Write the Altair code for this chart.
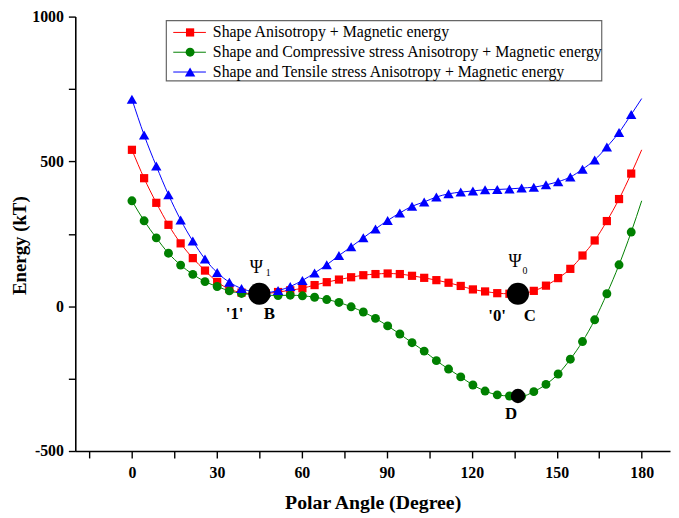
import altair as alt
import pandas as pd

# ---- data ----
angles = [0, 4.3, 8.6, 12.9, 17.2, 21.5, 25.8, 30.1, 34.4, 38.7, 43.0, 47.3, 51.6, 55.9,
          60.2, 64.5, 68.8, 73.1, 77.4, 81.7, 86.0, 90.3, 94.6, 98.9, 103.2, 107.5, 111.8,
          116.1, 120.4, 124.7, 129.0, 133.3, 137.6, 141.9, 146.2, 150.5, 154.8, 159.1,
          163.4, 167.7, 172.0, 176.3]
red = [540, 442, 357, 281, 217, 166, 123, 84, 59, 47, 43, 44, 49, 55, 62, 73, 83, 92, 100,
       107, 111, 113, 111, 105, 98, 90, 81, 70, 58, 51, 45, 43, 44, 53, 71, 97, 129, 175,
       227, 294, 370, 458]
green = [364, 295, 236, 183, 142, 110, 85, 68, 53, 44, 40, 38, 37, 38, 36, 31, 23, 13, -2,
         -20, -42, -68, -96, -126, -155, -188, -217, -244, -272, -293, -306, -310, -311,
         -295, -270, -234, -183, -122, -47, 43, 143, 256]
blue = [715, 591, 484, 385, 298, 225, 163, 116, 83, 61, 50, 47, 54, 68, 89, 115, 143, 175,
        205, 236, 267, 296, 322, 345, 360, 377, 388, 394, 398, 402, 403, 405, 408, 411, 419,
        430, 446, 473, 505, 550, 600, 662]
end_angle = 180
end_values = [540, 364, 717]

series_names = ["Shape Anisotropy + Magnetic energy",
                "Shape and Compressive stress Anisotropy + Magnetic energy",
                "Shape and Tensile stress Anisotropy + Magnetic energy"]
series_values = [red, green, blue]
colors = ["#ff0000", "#008000", "#0000ff"]
shapes = ["square", "circle", "triangle-up"]
sizes = [69, 81, 110]

special_names = ["B", "C", "D"]
special_angles = [45, 136.3, 136.3]
special_energy = [43, 43, -310]
special_sizes = [500, 500, 210]

x_ticks = [-15, 0, 15, 30, 45, 60, 75, 90, 105, 120, 135, 150, 165, 180]
y_ticks = [-500, -250, 0, 250, 500, 750, 1000]

FONT = "Liberation Serif"
W, H = 601, 439

xs = alt.Scale(domain=[-20, 190], nice=False, zero=False)
ys = alt.Scale(domain=[-500, 1000], nice=False, zero=False)

x_axis = alt.Axis(values=x_ticks, labelExpr="datum.value % 30 == 0 ? '' + datum.value : ''",
                  title="Polar Angle (Degree)", grid=False, tickSize=7, labelPadding=7,
                  titleY=52, titleBaseline="middle", titleFontSize=20)
y_axis = alt.Axis(values=y_ticks, labelExpr="datum.value % 500 == 0 ? '' + datum.value : ''",
                  title="Energy (kT)", grid=False, tickSize=7, labelPadding=5,
                  titleX=-56, titleY=231, titleBaseline="middle", titleAlign="center",
                  titleAngle=270, titleFontSize=19)


def X():
    return alt.X("angle:Q", scale=xs, axis=x_axis)


def Y():
    return alt.Y("energy:Q", scale=ys, axis=y_axis)


layers = []
for i, (name, vals) in enumerate(zip(series_names, series_values)):
    pts = pd.DataFrame({"angle": angles, "energy": vals})
    ln = pd.DataFrame({"angle": angles + [end_angle], "energy": vals + [end_values[i]]})
    layers.append(alt.Chart(ln).mark_line(color=colors[i], strokeWidth=1,
                                          interpolate="monotone").encode(x=X(), y=Y()))
    layers.append(alt.Chart(pts).mark_point(shape=shapes[i], filled=True, size=sizes[i],
                                            color=colors[i], opacity=1)
                  .encode(x=X(), y=Y()))

sp = pd.DataFrame({"angle": special_angles, "energy": special_energy,
                   "name": special_names, "sz": special_sizes})
layers.append(alt.Chart(sp).mark_point(shape="circle", filled=True, color="black", opacity=1)
              .encode(x=X(), y=Y(), size=alt.Size("sz:Q", scale=None, legend=None)))

# annotations: (text, anchor index, dx, dy, font size, bold)
annotations = [
    ("Ψ", 0, -3, -26, 18, "normal"), ("1", 0, 9, -21, 10, "normal"),
    ("'1'", 0, -25, 21, 17, "bold"), ("B", 0, 10, 21, 17, "bold"),
    ("Ψ", 1, -3, -32, 18, "normal"), ("0", 1, 7, -23, 10, "normal"),
    ("'0'", 1, -21, 23, 17, "bold"), ("C", 1, 12, 23, 17, "bold"),
    ("D", 2, -7, 18, 17, "bold"),
]
for txt, k, dx, dy, fs, fw in annotations:
    a = pd.DataFrame({"angle": [special_angles[k]], "energy": [special_energy[k]], "t": [txt]})
    layers.append(alt.Chart(a).mark_text(dx=dx, dy=dy, fontSize=fs, fontWeight=fw, font=FONT,
                                         align="center", baseline="middle", color="black")
                  .encode(x=X(), y=Y(), text="t:N"))

# legend box
dummy = pd.DataFrame({"a": [0]})
layers.append(alt.Chart(dummy).mark_rect(fill="white", stroke="#666666", strokeWidth=1.2)
              .encode(x=alt.value(92), x2=alt.value(532), y=alt.value(4), y2=alt.value(65)))
row_y = [16, 36, 56]
for i, name in enumerate(series_names):
    layers.append(alt.Chart(dummy).mark_rule(color=colors[i], strokeWidth=1)
                  .encode(x=alt.value(99), x2=alt.value(132), y=alt.value(row_y[i])))
    layers.append(alt.Chart(dummy).mark_point(shape=shapes[i], filled=True, size=sizes[i],
                                              color=colors[i], opacity=1)
                  .encode(x=alt.value(116), y=alt.value(row_y[i])))
    layers.append(alt.Chart(dummy).mark_text(align="left", baseline="middle", font=FONT,
                                             fontSize=16, color="black")
                  .encode(x=alt.value(139), y=alt.value(row_y[i]), text=alt.value(name)))

chart = (alt.layer(*layers)
         .properties(width=W, height=H,
                     padding={"left": 68, "top": 6, "right": 1, "bottom": 65},
                     autosize=alt.AutoSizeParams(type="none"))
         .configure_view(stroke=None)
         .configure_axis(labelFont=FONT, titleFont=FONT, labelFontWeight="bold",
                         titleFontWeight="bold", labelFontSize=16, labelColor="black",
                         titleColor="black", domainColor="black", tickColor="black",
                         domainWidth=1.6, tickWidth=1.4))

chart.save("out.html", embed_options={"renderer": "svg", "actions": False})
